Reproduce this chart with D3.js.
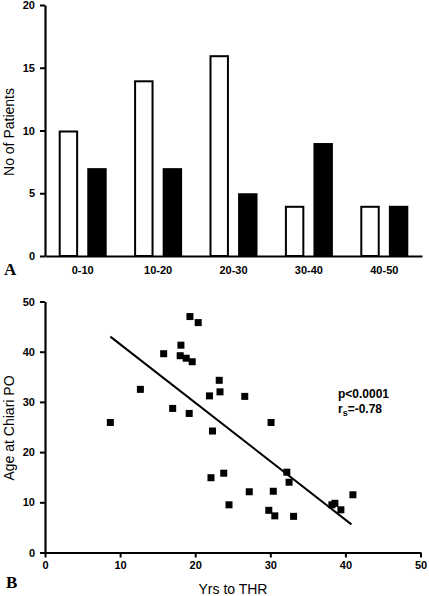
<!DOCTYPE html>
<html><head><meta charset="utf-8">
<script src="https://cdn.jsdelivr.net/npm/d3@7"></script>
<style>
body{margin:0;background:#fff;}
svg{display:block;}
text{font-family:"Liberation Sans",Arial,Helvetica,sans-serif;fill:#000;}
</style></head><body>
<svg id="c" width="429" height="596"></svg>
<script>
// ---- Panel A data ----
const categories = ["0-10","10-20","20-30","30-40","40-50"];
const series = ["white","black"];
const whiteValues = [10,14,16,4,4];
const blackValues = [7,7,5,9,4];
const yTicksA = [0,5,10,15,20];

// ---- Panel B data ----
const yrsToTHR = [8.7,12.7,15.8,17.0,18.1,18.0,18.8,19.6,19.3,20.4,19.2,21.9,22.3,23.2,23.3,26.6,30.1,23.8,22.1,32.2,32.5,27.2,30.4,24.5,29.8,30.6,33.1,41.0,38.2,38.6,39.4];
const ageAtChiari = [25.9,32.5,39.6,28.7,41.3,39.2,38.7,38.0,47.0,45.8,27.7,31.2,24.2,34.3,32.0,31.1,25.9,15.8,14.9,16.0,14.0,12.1,12.2,9.5,8.4,7.3,7.2,11.5,9.5,9.8,8.5];
const fitX = [8.7,40.8];
const fitY = [43.0,5.6];
const xTicksB = [0,10,20,30,40,50];
const yTicksB = [0,10,20,30,40,50];

const svg = d3.select("#c");

// ===== Panel A =====
const xA = d3.scaleBand().domain(categories).range([45,422]).paddingInner(0).paddingOuter(0);
const x1 = d3.scaleBand().domain(series).range([-24,24]).paddingInner(0.32);
const yA = d3.scaleLinear().domain([0,20]).range([256,5]);

const gA = svg.append("g");
const rowsA = categories.map((c,i)=>({c, white:whiteValues[i], black:blackValues[i]}));
rowsA.forEach(r=>{
  series.forEach(s=>{
    const v = r[s];
    const cx = xA(r.c) + xA.bandwidth()/2;
    gA.append("rect")
      .attr("x", cx + x1(s) + 1)
      .attr("width", x1.bandwidth() - 2)
      .attr("y", yA(v) + 1)
      .attr("height", yA(0) - yA(v) - 1)
      .attr("fill", s==="white" ? "#fff" : "#000")
      .attr("stroke", "#000")
      .attr("stroke-width", 2);
  });
});

// y axis A
const yAxisA = d3.axisLeft(yA).tickValues(yTicksA).tickSize(5).tickPadding(5).tickSizeOuter(0);
const gyA = svg.append("g").attr("transform","translate(45,0)").call(yAxisA);
gyA.select(".domain").attr("stroke-width",2.2);
gyA.selectAll(".tick line").attr("stroke-width",2);
gyA.selectAll("text").attr("font-size","11px").attr("font-weight","bold").attr("font-family","'Liberation Sans',Arial,sans-serif");

// x axis A
const xAxisA = d3.axisBottom(xA).tickSize(0).tickPadding(10).tickSizeOuter(0);
const gxA = svg.append("g").attr("transform","translate(0,256)").call(xAxisA);
gxA.select(".domain").attr("stroke-width",2.2);
gxA.selectAll("text").attr("font-size","11px").attr("font-weight","bold").attr("font-family","'Liberation Sans',Arial,sans-serif");

svg.append("text").attr("transform","translate(14,132) rotate(-90)")
  .attr("text-anchor","middle").attr("font-size","14px").text("No of Patients");
svg.append("text").attr("x",4).attr("y",275)
  .attr("font-family","'Liberation Serif','Times New Roman',serif").attr("font-weight","bold").attr("font-size","17px")
  .style("font-family","'Liberation Serif','Times New Roman',serif").text("A");

// ===== Panel B =====
const xB = d3.scaleLinear().domain([0,50]).range([45,420.5]);
const yB = d3.scaleLinear().domain([0,50]).range([552.5,301.5]);

const xAxisB = d3.axisBottom(xB).tickValues(xTicksB).tickSize(5).tickPadding(4).tickSizeOuter(0);
const gxB = svg.append("g").attr("transform","translate(0,552.5)").call(xAxisB);
gxB.select(".domain").attr("stroke-width",2.2);
gxB.selectAll(".tick line").attr("stroke-width",2);
gxB.selectAll("text").attr("font-size","11px").attr("font-weight","bold").attr("font-family","'Liberation Sans',Arial,sans-serif");

const yAxisB = d3.axisLeft(yB).tickValues(yTicksB).tickSize(5).tickPadding(5).tickSizeOuter(0);
const gyB = svg.append("g").attr("transform","translate(45,0)").call(yAxisB);
gyB.select(".domain").attr("stroke-width",2.2);
gyB.selectAll(".tick line").attr("stroke-width",2);
gyB.selectAll("text").attr("font-size","11px").attr("font-weight","bold").attr("font-family","'Liberation Sans',Arial,sans-serif");

// regression line
svg.append("line")
  .attr("x1", xB(fitX[0])).attr("y1", yB(fitY[0]))
  .attr("x2", xB(fitX[1])).attr("y2", yB(fitY[1]))
  .attr("stroke","#000").attr("stroke-width",2);

// points
const pts = yrsToTHR.map((x,i)=>({x, y:ageAtChiari[i]}));
svg.append("g").selectAll("rect").data(pts).join("rect")
  .attr("x", d=>xB(d.x)-3.5).attr("y", d=>yB(d.y)-3.5)
  .attr("width",7).attr("height",7).attr("fill","#000");

// annotation
svg.append("text").attr("x",338).attr("y",398).attr("font-size","12px").attr("font-weight","bold").text("p<0.0001");
const rt = svg.append("text").attr("x",338).attr("y",413).attr("font-size","12px").attr("font-weight","bold");
rt.append("tspan").text("r");
rt.append("tspan").attr("font-size","9px").attr("dy","3").text("s");
rt.append("tspan").attr("dy","-3").text("=-0.78");

svg.append("text").attr("transform","translate(14,428) rotate(-90)")
  .attr("text-anchor","middle").attr("font-size","14px").text("Age at Chiari PO");
svg.append("text").attr("x",233).attr("y",594)
  .attr("text-anchor","middle").attr("font-size","14px").text("Yrs to THR");
svg.append("text").attr("x",6).attr("y",588)
  .attr("font-weight","bold").attr("font-size","17px")
  .style("font-family","'Liberation Serif','Times New Roman',serif").text("B");
</script></body></html>
